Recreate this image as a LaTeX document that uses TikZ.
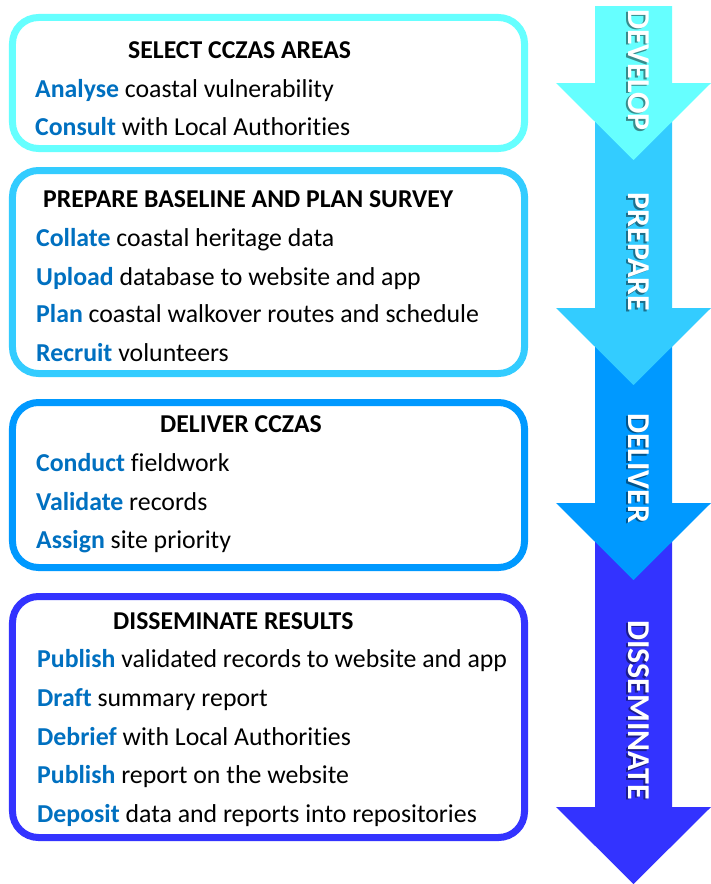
\documentclass[tikz,border=0pt]{standalone}
\usepackage{fontspec}
\setmainfont{Carlito}[Ligatures=CommonOff]
\definecolor{cA}{HTML}{66FFFF}
\definecolor{cB}{HTML}{33CCFF}
\definecolor{cC}{HTML}{0099FF}
\definecolor{cD}{HTML}{3333FF}
\definecolor{verb}{HTML}{0070C0}
\begin{document}
\begin{tikzpicture}[x=1bp,y=-1bp,
  box/.style={draw=#1, line width=7bp, rounded corners=26bp, rectangle, inner sep=0pt, minimum width=512bp, fill=white},
  title/.style={anchor=base west, inner sep=0pt, font=\fontsize{25.8}{30}\selectfont\bfseries, text=black},
  item/.style={anchor=base west, inner sep=0pt, font=\fontsize{25.9}{30}\selectfont, text=black},
  lab/.style={anchor=base, inner sep=0pt, rotate=-90, font=\fontsize{32}{38}\selectfont\bfseries, text=white},
  labshadow/.style={anchor=base, inner sep=0pt, rotate=-90, font=\fontsize{32}{38}\selectfont\bfseries, text=black, opacity=0.45}
]
\useasboundingbox (0,0) rectangle (711,884);
\fill[white] (0,0) rectangle (711,884);

% arrows (drawn bottom first so upper tips overlap)
\newcommand{\stagearrow}[4]{%
  \fill[#4] (595,#1) -- (672,#1) -- (672,#2) -- (711,#2) -- (633.5,#3) -- (556,#2) -- (595,#2) -- cycle;}
\stagearrow{503}{807}{884}{cD}
\stagearrow{308}{503}{580}{cC}
\stagearrow{83}{308}{385}{cB}
\stagearrow{6}{83}{160}{cA}

\node[labshadow] at (626.5,71.5) {DEVELOP};
\node[lab] (l1) at (628,70) {DEVELOP};
\node[labshadow] at (626.5,253.5) {PREPARE};
\node[lab] (l2) at (628,252) {PREPARE};
\node[labshadow] at (626.5,469.5) {DELIVER};
\node[lab] (l3) at (628,468) {DELIVER};
\node[labshadow] at (626.5,711.5) {DISSEMINATE};
\node[lab] (l4) at (628,710) {DISSEMINATE};

% boxes
\node[box=cA, minimum height=131bp] (b1) at (268.5,83) {};
\node[box=cB, minimum height=203bp] (b2) at (268.5,272) {};
\node[box=cC, minimum height=165bp] (b3) at (268.5,485) {};
\node[box=cD, minimum height=241bp] (b4) at (268.5,717) {};

% box 1
\node[title] (t1) at (128,58) {SELECT CCZAS AREAS};
\node[item] (t1a) at (35,97) {\textcolor{verb}{\bfseries Analyse} coastal vulnerability};
\node[item] (t1b) at (35,135) {\textcolor{verb}{\bfseries Consult} with Local Authorities};

% box 2
\node[title] (t2) at (43,207) {PREPARE BASELINE AND PLAN SURVEY};
\node[item] (t2a) at (36,246) {\textcolor{verb}{\bfseries Collate} coastal heritage data};
\node[item] (t2b) at (36,285) {\textcolor{verb}{\bfseries Upload} database to website and app};
\node[item] (t2c) at (36,322) {\textcolor{verb}{\bfseries Plan} coastal walkover routes and schedule};
\node[item] (t2d) at (36,361) {\textcolor{verb}{\bfseries Recruit} volunteers};

% box 3
\node[title] (t3) at (160,432) {DELIVER CCZAS};
\node[item] (t3a) at (36,471) {\textcolor{verb}{\bfseries Conduct} fieldwork};
\node[item] (t3b) at (36,510) {\textcolor{verb}{\bfseries Validate} records};
\node[item] (t3c) at (36,548) {\textcolor{verb}{\bfseries Assign} site priority};

% box 4
\node[title] (t4) at (113,629) {DISSEMINATE RESULTS};
\node[item] (t4a) at (37,667) {\textcolor{verb}{\bfseries Publish} validated records to website and app};
\node[item] (t4b) at (37,706) {\textcolor{verb}{\bfseries Draft} summary report};
\node[item] (t4c) at (37,745) {\textcolor{verb}{\bfseries Debrief} with Local Authorities};
\node[item] (t4d) at (37,783) {\textcolor{verb}{\bfseries Publish} report on the website};
\node[item] (t4e) at (37,822) {\textcolor{verb}{\bfseries Deposit} data and reports into repositories};
\end{tikzpicture}
\end{document}
